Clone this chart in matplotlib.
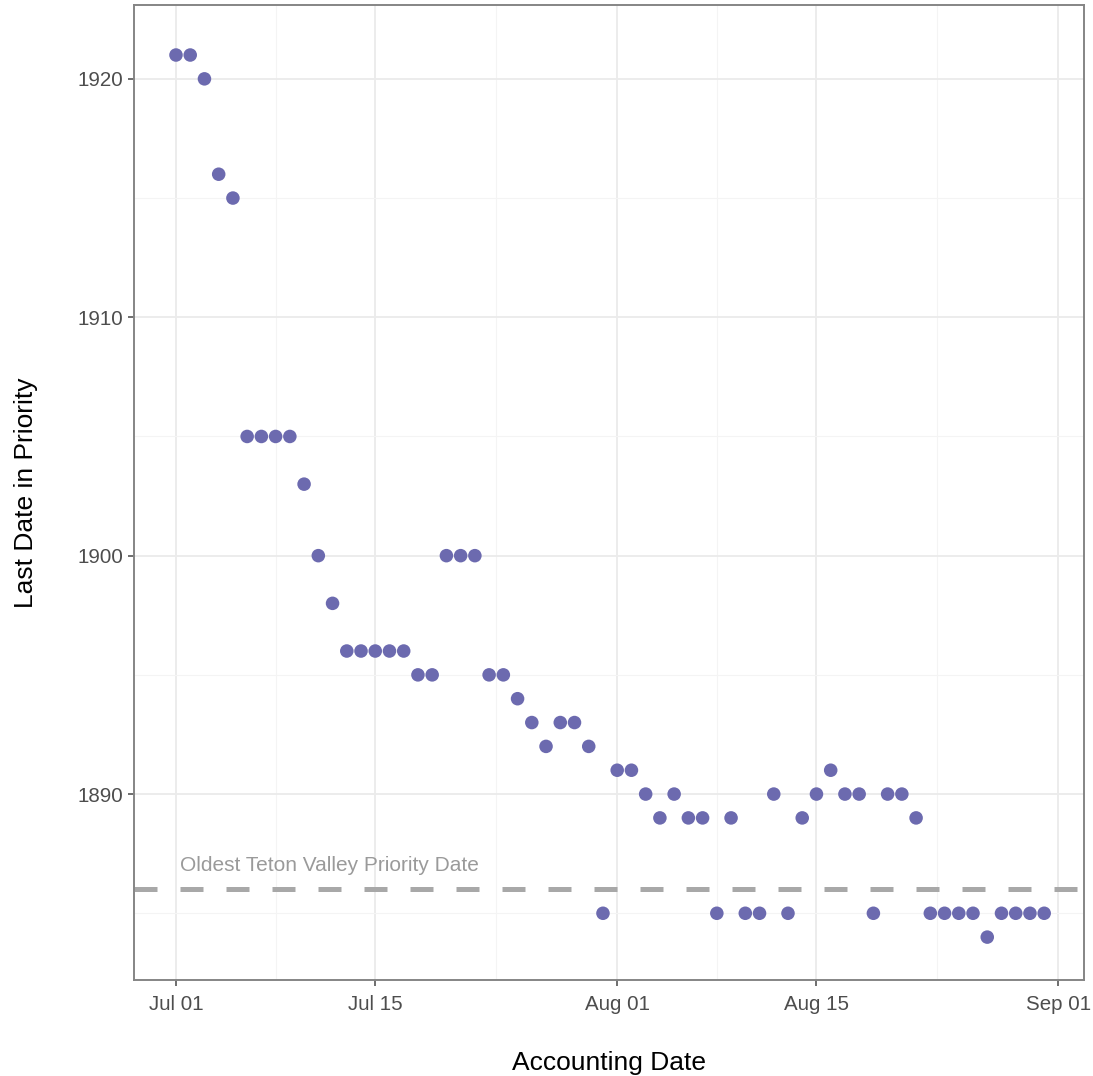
import numpy as np
import matplotlib
matplotlib.use('Agg')
import matplotlib.pyplot as plt
import matplotlib.dates as mdates
import datetime as dt

plt.rcParams['font.family'] = ['Liberation Sans', 'DejaVu Sans']

# accounting dates, one per day Jul 01 - Aug 31
start = dt.date(2018, 7, 1)
days = [start + dt.timedelta(days=i) for i in range(62)]

last_priority = [1921, 1921, 1920, 1916, 1915, 1905, 1905, 1905, 1905, 1903,
                 1900, 1898, 1896, 1896, 1896, 1896, 1896, 1895, 1895, 1900,
                 1900, 1900, 1895, 1895, 1894, 1893, 1892, 1893, 1893, 1892,
                 1885,
                 1891, 1891, 1890, 1889, 1890, 1889, 1889, 1885, 1889, 1885,
                 1885, 1890, 1885, 1889, 1890, 1891, 1890, 1890, 1885, 1890,
                 1890, 1889, 1885, 1885, 1885, 1885, 1884, 1885, 1885, 1885,
                 1885]

oldest_teton = 1886
oldest_label = 'Oldest Teton Valley Priority Date'

x_ticks = [dt.date(2018, 7, 1), dt.date(2018, 7, 15), dt.date(2018, 8, 1),
           dt.date(2018, 8, 15), dt.date(2018, 9, 1)]
x_minor = [dt.date(2018, 7, 8), dt.date(2018, 7, 23), dt.date(2018, 8, 8),
           dt.date(2018, 8, 23)]
y_ticks = [1890, 1900, 1910, 1920]
y_minor = [1885, 1895, 1905, 1915]

fig = plt.figure(figsize=(10.93, 10.76), dpi=100)
ax = fig.add_axes([0.1226, 0.0892, 0.8692, 0.9062])

xd = mdates.date2num(days)
ax.scatter(xd, last_priority, s=95, color='#6C6AAF', edgecolors='none', zorder=3)

ax.axhline(oldest_teton, color='#A8A8A8', lw=3.6, dashes=(4.6, 4.6), zorder=2)
ax.text(mdates.date2num(dt.date(2018, 7, 1)) + 0.25, 1887.0, oldest_label,
        color='#9A9A9A', fontsize=15, ha='left', va='center')

# axis ranges
x0 = mdates.date2num(dt.date(2018, 7, 1))
ax.set_xlim(x0 - 2.95, x0 + 63.8)
ax.set_ylim(1882.2, 1923.1)

ax.set_xticks(mdates.date2num(x_ticks))
ax.set_xticklabels([d.strftime('%b %d') for d in x_ticks])
ax.set_xticks(mdates.date2num(x_minor) + 0.5 * np.array([0, 1, 0, 1]), minor=True)
ax.set_yticks(y_ticks)
ax.set_yticks(y_minor, minor=True)

ax.grid(which='major', color='#EBEBEB', lw=1.3, zorder=0)
ax.grid(which='minor', color='#F4F4F4', lw=0.8, zorder=0)
ax.set_axisbelow(True)

for sp in ax.spines.values():
    sp.set_color('#858585')
    sp.set_linewidth(1.4)

ax.tick_params(which='major', length=4, width=1.2, color='#555555',
               labelsize=14.8, labelcolor='#4D4D4D', pad=4)
ax.tick_params(axis='x', which='major', pad=7)
ax.tick_params(which='minor', length=0)

ax.set_xlabel('Accounting Date', fontsize=19, labelpad=26.5)
ax.set_ylabel('Last Date in Priority', fontsize=19, labelpad=28)

fig.savefig('out.png', dpi=100)
